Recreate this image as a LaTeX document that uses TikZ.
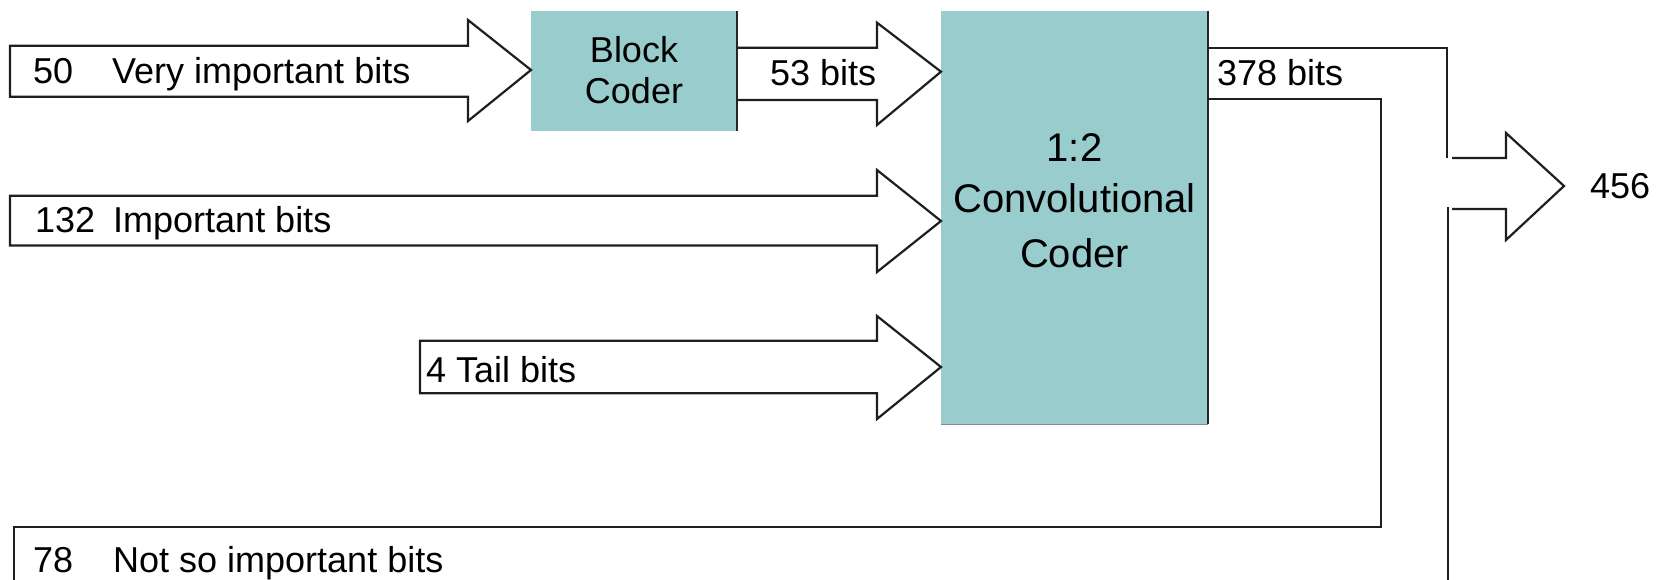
\documentclass[tikz,border=0pt]{standalone}
\usepackage{fontspec}
\setmainfont{Liberation Sans}
\begin{document}
\begin{tikzpicture}[x=1pt,y=-1pt,
  ln/.style={draw=black!88,line width=2.2pt,line join=miter},
  arrowshape/.style={ln,fill=white},
  coderbox/.style={fill=tealfill,draw=none,inner sep=0pt,anchor=north west},
  lbl/.style={inner sep=0pt,anchor=base west,font=\fontsize{36}{43}\selectfont},
  big/.style={inner sep=0pt,anchor=base,font=\fontsize{40}{48}\selectfont}]
\definecolor{tealfill}{RGB}{153,204,204}
\useasboundingbox (0,0) rectangle (1663,580);
\fill[white] (0,0) rectangle (1663,580);
% boxes
\node[coderbox,minimum width=206pt,minimum height=120pt] (blk) at (531,11) {};
\node[coderbox,minimum width=267pt,minimum height=413pt] (conv) at (941,11) {};
\draw[black!85,line width=2pt] (blk.north east) -- (blk.south east);
\draw[black!85,line width=2pt] (conv.north east) -- (conv.south east);
\draw[black!45,line width=1.5pt] (conv.south west) -- (conv.south east);
\node[inner sep=0pt,align=center,font=\fontsize{36}{41}\selectfont,anchor=base] (blktxt) at (634,104) {Block\\Coder};
\node[big] (c1) at (1074.5,162) {1:2};
\node[big] (c2) at (1074.5,213) {Convolutional};
\node[big] (c3) at (1074.5,267) {Coder};
% tip coordinates
\coordinate (t1) at (blk.west |- 0,70);
\coordinate (t2) at (conv.west |- 0,71.7);
\coordinate (t3) at (conv.west |- 0,221);
\coordinate (t4) at (conv.west |- 0,367);
% arrow 1
\draw[arrowshape] (10,45.7) -- (468,45.7) -- (468,20) -- (t1) -- (468,121) -- (468,96.7) -- (10,96.7) -- cycle;
% arrow 2
\draw[ln] (blk.east |- 0,47.7) -- (877,47.7) -- (877,22.7) -- (t2) -- (877,125) -- (877,100) -- (blk.east |- 0,100);
% arrow 3
\draw[arrowshape] (10,195.7) -- (877,195.7) -- (877,170) -- (t3) -- (877,272) -- (877,245.5) -- (10,245.5) -- cycle;
% arrow 4
\draw[arrowshape] (420,340.7) -- (877,340.7) -- (877,316) -- (t4) -- (877,419) -- (877,393.3) -- (420,393.3) -- cycle;
% output lines
\coordinate (bl) at (14,580);
\coordinate (br) at (1448,580);
\coordinate (tout) at (1564,186);
\draw[ln] (conv.east |- 0,47.7) -- (1447,47.7) -- (1447,158);
\draw[ln] (conv.east |- 0,99) -- (1381,99) -- (1381,527) -- (14,527) -- (bl);
\draw[ln] (1452,158) -- (1506,158) -- (1506,133) -- (tout) -- (1506,240) -- (1506,209) -- (1452,209);
\draw[ln] (1448,207) -- (br);
% labels
\node[lbl] (n50) at (33,84) {50};
\node[lbl] (l50) at (112,84) {Very important bits};
\node[lbl] (n132) at (35,233) {132};
\node[lbl] (l132) at (113,233) {Important bits};
\node[lbl] (tail) at (426,382) {4 Tail bits};
\node[lbl] (b53) at (770,86) {53 bits};
\node[lbl] (b378) at (1217,86) {378 bits};
\node[lbl] (o456) at (1590,199) {456};
\node[lbl] (n78) at (33,572) {78};
\node[lbl] (l78) at (113,572) {Not so important bits};
\end{tikzpicture}
\end{document}
